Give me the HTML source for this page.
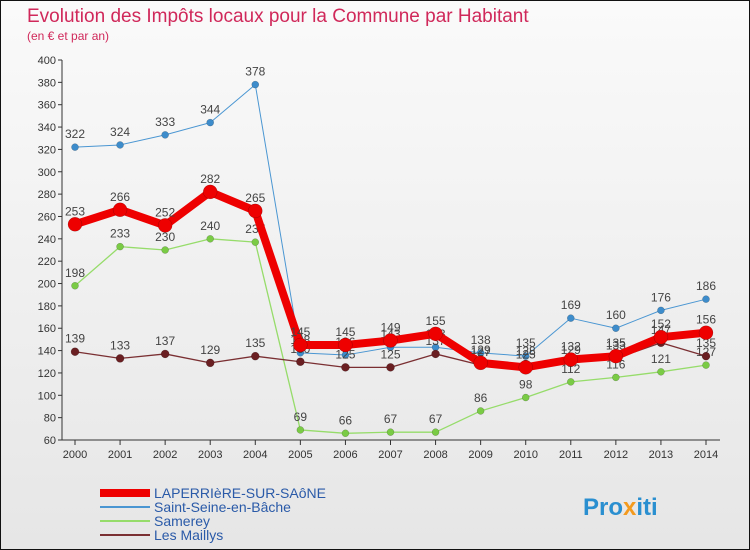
<!DOCTYPE html>
<html><head><meta charset="utf-8"><style>
body{margin:0;width:750px;height:550px;overflow:hidden;font-family:"Liberation Sans",sans-serif}
#wrap{position:absolute;left:0;top:0;width:748px;height:548px;border:1px solid #111;background:linear-gradient(#fafafa,#e6e6e6)}
</style></head><body>
<div id="wrap">
<svg id="c" width="750" height="550" style="position:absolute;left:-1px;top:-1px"></svg>
</div>
<script>
const years=["2000","2001","2002","2003","2004","2005","2006","2007","2008","2009","2010","2011","2012","2013","2014"];
const laperriere=[253,266,252,282,265,145,145,149,155,129,125,132,135,152,156];
const saintSeine=[322,324,333,344,378,138,136,143,143,138,135,169,160,176,186];
const samerey=[198,233,230,240,237,69,66,67,67,86,98,112,116,121,127];
const maillys=[139,133,137,129,135,130,125,125,137,127,128,129,133,147,135];
const yTicks=[60,80,100,120,140,160,180,200,220,240,260,280,300,320,340,360,380,400];
const NS="http://www.w3.org/2000/svg";
const svg=document.getElementById('c');
function mk(t,a,p){const e=document.createElementNS(NS,t);for(const k in a)e.setAttribute(k,a[k]);(p||svg).appendChild(e);return e;}
const x=i=>75+i*(706-75)/(years.length-1);
const y=v=>440-(v-60)*380/340;
let t=mk('text',{x:27,y:22,'font-size':19,fill:'#d0285a'});t.textContent="Evolution des Impôts locaux pour la Commune par Habitant";

t=mk('text',{x:27,y:40,'font-size':12,fill:'#d0285a'});t.textContent="(en € et par an)";

let ax=mk('line',{x1:62,y1:60,x2:62,y2:440,stroke:'#333'});

ax=mk('line',{x1:62,y1:440,x2:720,y2:440,stroke:'#333'});

yTicks.forEach(v=>{
 mk('line',{x1:58,y1:y(v),x2:62,y2:y(v),stroke:'#333'});
 const l=mk('text',{x:56,y:y(v)+4,'font-size':11,fill:'#333','text-anchor':'end'});l.textContent=v;
 
});
years.forEach((yr,i)=>{
 mk('line',{x1:x(i),y1:440,x2:x(i),y2:445,stroke:'#333'});
 const l=mk('text',{x:x(i),y:458,'font-size':11,fill:'#333','text-anchor':'middle'});l.textContent=yr;
 
});
const series=[
 {n:'saint-seine',d:saintSeine,c:'#4a96d2',w:1,r:3.5,f:'#3d8ccb'},
 {n:'samerey',d:samerey,c:'#96dc6a',w:1.3,r:3.5,f:'#7acb45'},
 {n:'les-maillys',d:maillys,c:'#7a2f32',w:1.3,r:4,f:'#6a1f22'},
 {n:'laperriere',d:laperriere,c:'#ee0000',w:8,r:7,f:'#ee0000'}
];
series.forEach(s=>{
 const g=mk('g',{});
 const p=mk('polyline',{points:s.d.map((v,i)=>x(i)+','+y(v)).join(' '),fill:'none',stroke:s.c,'stroke-width':s.w,'stroke-linejoin':'round'},g);
 
 s.d.forEach((v,i)=>{
  const c=mk('circle',{cx:x(i),cy:y(v),r:s.r,fill:s.f,stroke:'rgba(0,0,0,0.3)','stroke-width':0.5},g);
  
  const l=mk('text',{x:x(i),y:y(v)-9,'font-size':12,fill:'#444','text-anchor':'middle'},g);l.textContent=v;
  
 });
});
const leg=[['LAPERRIèRE-SUR-SAôNE','#ee0000',8],['Saint-Seine-en-Bâche','#4a96d2',2],['Samerey','#96dc6a',2],['Les Maillys','#7a2f32',2]];
leg.forEach((L,i)=>{
 const g=mk('g',{});
 mk('line',{x1:100,y1:493+i*14,x2:150,y2:493+i*14,stroke:L[1],'stroke-width':L[2]},g);
 const tx=mk('text',{x:154,y:498+i*14,'font-size':14,fill:'#2a5aa8'},g);tx.textContent=L[0];
});
const lg=mk('text',{x:583,y:515,'font-size':24,'font-weight':'bold',fill:'#2a8fd0'});
lg.innerHTML='Pro<tspan fill="#f39a1e">x</tspan>iti';

</script>
</body></html>
